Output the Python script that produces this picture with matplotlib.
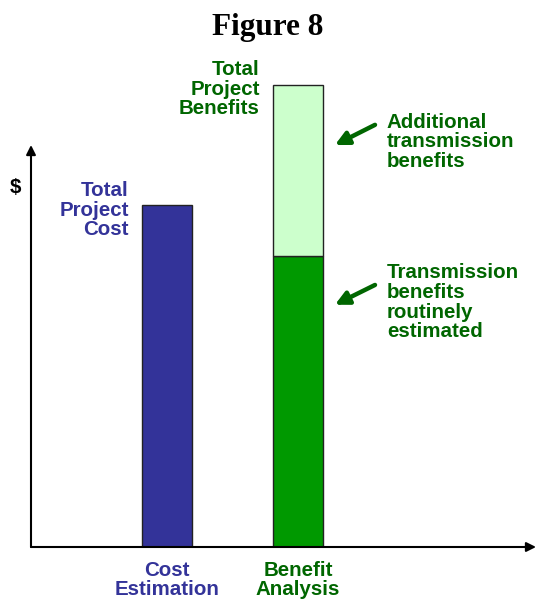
import matplotlib
matplotlib.use("Agg")
import matplotlib.pyplot as plt

# bar data (arbitrary $ units)
categories = ["Cost\nEstimation", "Benefit\nAnalysis"]
total_cost = 100
routine_benefits = 85
additional_benefits = 50

BLUE = "#333399"
DARK_GREEN = "#009900"
LIGHT_GREEN = "#CCFFCC"
TEXT_GREEN = "#006600"

plt.rcParams['font.family'] = ['Liberation Sans', 'DejaVu Sans']

fig = plt.figure(figsize=(5.36, 5.99), dpi=100)
# axes placed in pixel terms: left 31px, bottom 52px, top 40px from top
ax = fig.add_axes([31 / 536, 52 / 599, 505 / 536, 507 / 599])
ax.set_xlim(-0.038, 3.817)
ax.set_ylim(0, 148.2)
ax.axis('off')

w = 0.382
ax.bar(1, total_cost, w, color=BLUE, edgecolor='#222222', lw=1)
ax.bar(2, routine_benefits, w, color=DARK_GREEN, edgecolor='#222222', lw=1)
ax.bar(2, additional_benefits, w, bottom=routine_benefits, color=LIGHT_GREEN,
       edgecolor='#222222', lw=1)

# axes with arrow heads
ax.annotate("", xy=(-0.038, 117.5), xytext=(-0.038, 0),
            arrowprops=dict(arrowstyle='-|>', lw=1.5, color='black', mutation_scale=14,
                            shrinkA=0, shrinkB=0), annotation_clip=False)
ax.annotate("", xy=(3.817, 0), xytext=(-0.038, 0),
            arrowprops=dict(arrowstyle='-|>', lw=1.5, color='black', mutation_scale=14,
                            shrinkA=0, shrinkB=0), annotation_clip=False)

fs = 14.8
ls = 1.05
ax.text(-0.16, 105, "$", fontsize=fs, fontweight='bold', ha='center', va='center')

ax.text(0.71, 107.0, "Total\nProject\nCost", color=BLUE, fontsize=fs,
        fontweight='bold', ha='right', va='top', linespacing=ls)
ax.text(1.71, 142.4, "Total\nProject\nBenefits", color=TEXT_GREEN, fontsize=fs,
        fontweight='bold', ha='right', va='top', linespacing=ls)
ax.text(2.679, 127.0, "Additional\ntransmission\nbenefits", color=TEXT_GREEN,
        fontsize=fs, fontweight='bold', ha='left', va='top', linespacing=ls)
ax.text(2.679, 83.0, "Transmission\nbenefits\nroutinely\nestimated", color=TEXT_GREEN,
        fontsize=fs, fontweight='bold', ha='left', va='top', linespacing=ls)

# pointer arrows
for y_tail, y_head in [(123.4, 117.5), (76.6, 70.8)]:
    ax.annotate("", xy=(2.282, y_head), xytext=(2.588, y_tail),
                arrowprops=dict(arrowstyle='-|>', lw=3.2, color=TEXT_GREEN,
                                mutation_scale=20, shrinkA=0, shrinkB=0))

# category labels under the bars
for pos, lab, col in zip([1, 2], categories, [BLUE, TEXT_GREEN]):
    ax.text(pos, -4.0, lab, color=col, fontsize=fs, fontweight='bold',
            ha='center', va='top', linespacing=ls)

fig.text(0.5, 1 - 28 / 599, "Figure 8", family='Liberation Serif', fontsize=22.5,
         fontweight='bold', ha='center', va='center')

fig.savefig("out.png", dpi=100)
